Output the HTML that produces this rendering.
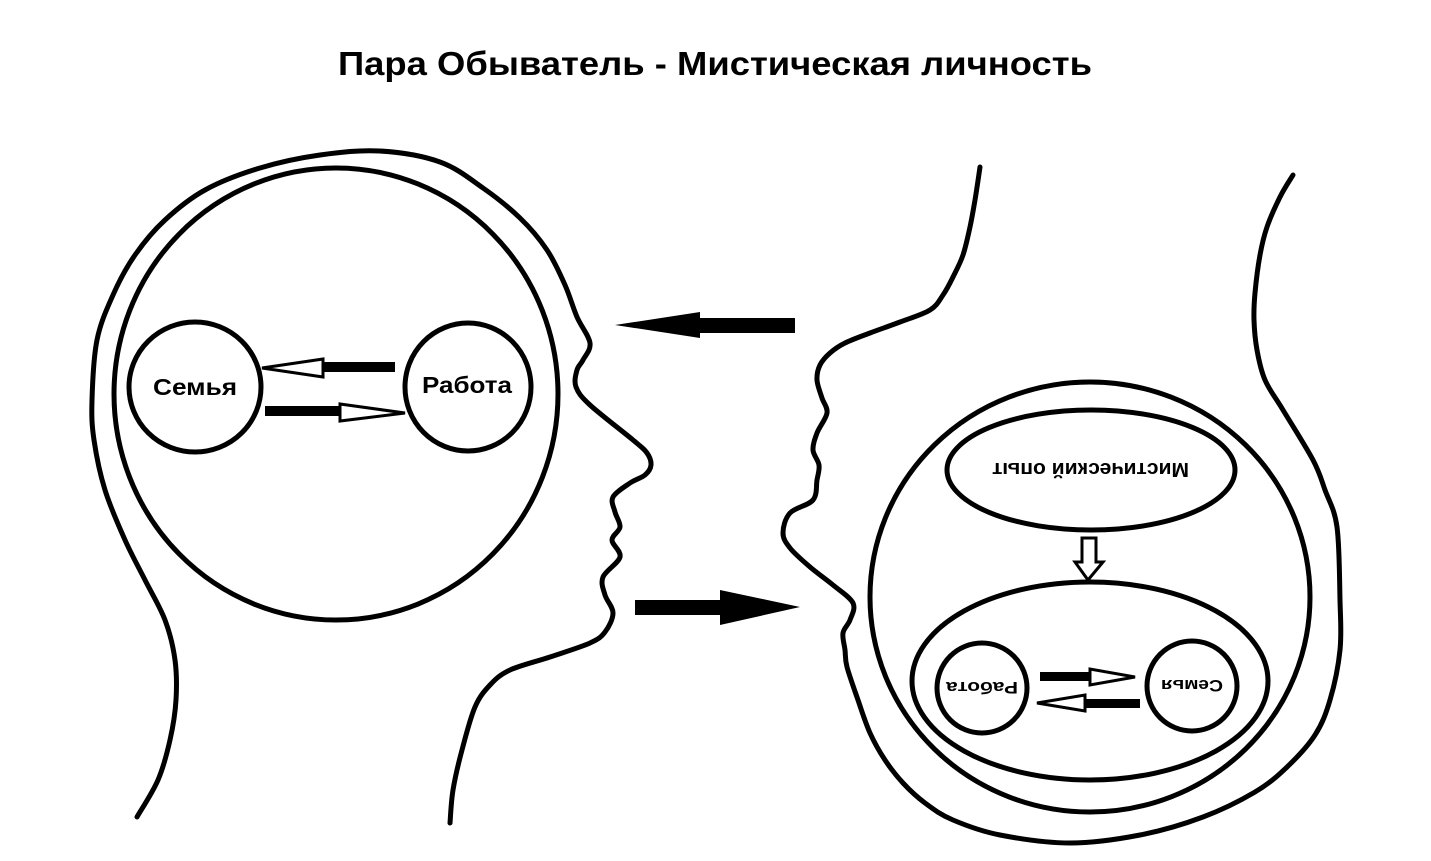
<!DOCTYPE html>
<html><head><meta charset="utf-8"><style>
html,body{margin:0;padding:0;background:#fff;}
svg{display:block;}
text{font-family:"Liberation Sans","DejaVu Sans",sans-serif;font-weight:bold;fill:#000;}
</style></head><body>
<svg width="1431" height="861" viewBox="0 0 1431 861" xmlns="http://www.w3.org/2000/svg">
<text x="338" y="75" font-size="33" textLength="754" lengthAdjust="spacingAndGlyphs">Пара Обыватель - Мистическая личность</text>
<g fill="none" stroke="#000" stroke-width="5" stroke-linejoin="round" stroke-linecap="round">
<polyline class="sm" points="137,817 158,780 170,740 176,700 175,660 165,620 145,580 125,540 105,490 94,440 92,400 97,340 113,295 135,255 165,220 205,190 260,168 320,155 380,151 440,162 483,188 520,218 547,250 565,285 577,317 590,343 583,360 577,370 576,387 590,405 633,440 647,453 651,465 645,475 630,483 613,497 615,512 620,527 612,540 620,557 603,577 605,595 613,613 605,632 590,643 550,657 510,670 490,685 475,707 462,750 453,790 450,823"/>
<ellipse cx="336" cy="394" rx="222" ry="226"/>
<ellipse cx="195" cy="387" rx="66" ry="65"/>
<ellipse cx="468" cy="387" rx="63" ry="64"/>
<polyline class="sm" points="980,167 975,200 970,227 963,255 953,277 943,295 930,310 900,322 870,333 845,343 830,353 820,365 817,380 822,398 827,413 817,433 813,450 819,465 817,480 813,500 790,513 783,533 790,548 810,567 833,585 853,603 850,620 843,633 845,650 847,667 858,700 870,733 885,760 903,783 925,803 953,820 1000,835 1070,843 1140,835 1203,817 1255,792 1287,767 1315,735 1330,700 1340,650 1340,600 1337,527 1325,490 1313,460 1283,410 1265,380 1257,350 1254,320 1255,293 1260,255 1267,227 1280,197 1293,175"/>
<ellipse cx="1090" cy="597" rx="220" ry="215"/>
<ellipse cx="1091" cy="470" rx="144" ry="60"/>
<ellipse cx="1090" cy="681" rx="178" ry="99"/>
<circle cx="982" cy="688" r="45"/>
<circle cx="1192" cy="686" r="45"/>
</g>
<polygon points="615,325 700,312 700,318 795,318 795,333 700,333 700,338" fill="#000"/>
<polygon points="800,607 720,590 720,600 635,600 635,615 720,615 720,625" fill="#000"/>
<rect x="323" y="362" width="72" height="10" fill="#000"/>
<polygon points="262,368 323,359 323,377" fill="#fff" stroke="#000" stroke-width="3"/>
<rect x="265" y="406" width="75" height="10" fill="#000"/>
<polygon points="405,413 340,404 340,421" fill="#fff" stroke="#000" stroke-width="3"/>
<rect x="1040" y="672" width="50" height="9" fill="#000"/>
<polygon points="1135,677 1090,669 1090,685" fill="#fff" stroke="#000" stroke-width="3"/>
<rect x="1085" y="699" width="55" height="9" fill="#000"/>
<polygon points="1037,703 1085,695 1085,711" fill="#fff" stroke="#000" stroke-width="3"/>
<polygon points="1082,538 1096,538 1096,562 1103,562 1088,580 1075,562 1082,562" fill="#fff" stroke="#000" stroke-width="3"/>
<text x="153" y="395" font-size="23" textLength="84" lengthAdjust="spacingAndGlyphs">Семья</text>
<text x="422" y="393" font-size="23" textLength="90" lengthAdjust="spacingAndGlyphs">Работа</text>
<g transform="rotate(180 1091 470)"><text x="993" y="477" font-size="20" textLength="197" lengthAdjust="spacingAndGlyphs">Мистический опыт</text></g>
<g transform="rotate(180 982 688)"><text x="946" y="694" font-size="17" textLength="72" lengthAdjust="spacingAndGlyphs">Работа</text></g>
<g transform="rotate(180 1192 686)"><text x="1161" y="692" font-size="17" textLength="62" lengthAdjust="spacingAndGlyphs">Семья</text></g>
</svg>
<script>
document.querySelectorAll('polyline.sm').forEach(function(pl){
  var p=pl.getAttribute('points').trim().split(/\s+/).map(function(s){return s.split(',').map(Number);});
  var d='M'+p[0][0]+','+p[0][1];
  for(var i=0;i<p.length-1;i++){
    var p0=p[i-1]||p[i],p1=p[i],p2=p[i+1],p3=p[i+2]||p2;
    var c1x=p1[0]+(p2[0]-p0[0])/6,c1y=p1[1]+(p2[1]-p0[1])/6;
    var c2x=p2[0]-(p3[0]-p1[0])/6,c2y=p2[1]-(p3[1]-p1[1])/6;
    d+=' C'+c1x.toFixed(1)+','+c1y.toFixed(1)+' '+c2x.toFixed(1)+','+c2y.toFixed(1)+' '+p2[0]+','+p2[1];
  }
  var path=document.createElementNS('http://www.w3.org/2000/svg','path');
  path.setAttribute('d',d);
  pl.parentNode.replaceChild(path,pl);
});
</script>
</body></html>
